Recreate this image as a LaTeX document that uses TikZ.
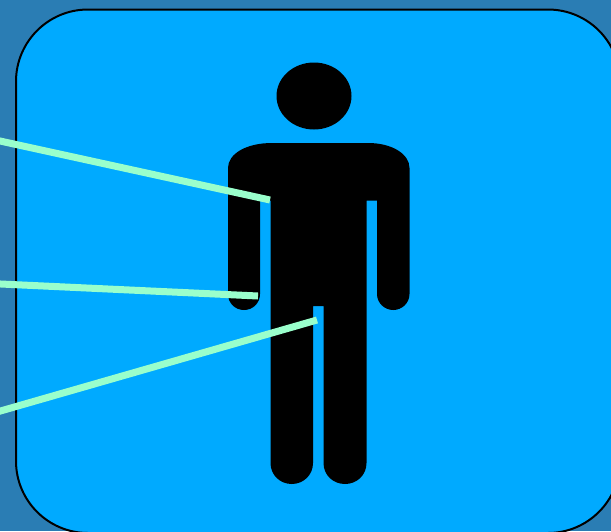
\documentclass[tikz,border=0pt]{standalone}
\definecolor{backblue}{HTML}{2A7DB4}
\definecolor{boxblue}{HTML}{00AAFF}
\definecolor{pointergreen}{HTML}{99FFCC}
\tikzset{
  pointer/.style={pointergreen,line width=7pt},
  figure/.style={fill=black,draw=none}
}
\begin{document}
\begin{tikzpicture}[x=1pt,y=-1pt]
\useasboundingbox (0,0) rectangle (611,531);
\clip (0,0) rectangle (611,531);
\fill[backblue] (0,0) rectangle (611,531);
\draw[fill=boxblue,line width=2pt,rounded corners=72pt] (16,9.5) rectangle (620,533);
% head
\fill[figure] (314,96) ellipse [x radius=37.5pt,y radius=33.5pt];
% body with arms and legs
\fill[figure] (228,168)
  .. controls (228,154) and (246,143) .. (272,143) -- (368,143)
  .. controls (392,143) and (409.5,154) .. (409.5,168) -- (409.5,294)
  .. controls (409.5,303) and (402,310) .. (393.25,310)
  .. controls (384.5,310) and (377,303) .. (377,294)
  -- (377,200.5) -- (366.5,200.5) -- (366.5,463)
  .. controls (366.5,475) and (357,484) .. (345,484)
  .. controls (333,484) and (323.5,475) .. (323.5,463)
  -- (323.5,306) -- (313,306) -- (313,463)
  .. controls (313,475) and (303.5,484) .. (291.75,484)
  .. controls (280,484) and (270.5,475) .. (270.5,463)
  -- (270.5,200.5) -- (260,200.5) -- (260,294)
  .. controls (260,303) and (253,310) .. (244,310)
  .. controls (235,310) and (228,303) .. (228,294) -- cycle;
% pointers
\foreach \xa/\ya/\xb/\yb in {-10/138.8/270/200, -10/283.5/258/296, -10/414/317/320} {
  \draw[pointer] (\xa,\ya) -- (\xb,\yb);
}
\end{tikzpicture}
\end{document}
